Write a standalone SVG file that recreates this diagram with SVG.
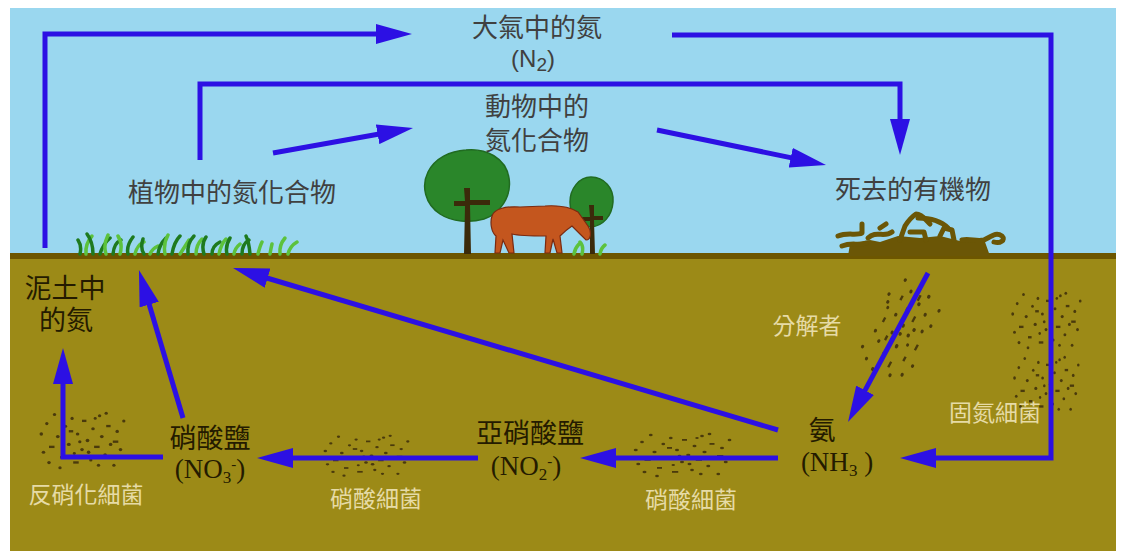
<svg xmlns="http://www.w3.org/2000/svg" width="1125" height="557" viewBox="0 0 1125 557">
  <style>
    .sky-t { font-family: "Noto Sans CJK TC", "Noto Sans CJK SC", sans-serif; font-size: 26px; fill: #404040; text-anchor: middle; }
    .soil-t { font-family: "Liberation Serif", "Noto Sans CJK TC", serif; font-size: 27px; fill: #241b00; text-anchor: middle; }
    .bact-t { font-family: "Liberation Serif", "Noto Sans CJK TC", serif; font-size: 23px; fill: #e6dba6; text-anchor: middle; }
    .chem { font-family: "Liberation Serif", serif; font-size: 27px; fill: #241b00; text-anchor: middle; }
    .chem-s { font-family: "Liberation Sans", sans-serif; font-size: 24px; fill: #404040; text-anchor: middle; }
    .flow { fill: none; stroke: #2c10e4; stroke-width: 5; stroke-linejoin: miter; }
    .dot { fill: #4a3a0c; }
    .blade-d { fill: none; stroke: #1e7a1e; stroke-width: 3.5; stroke-linecap: round; }
    .blade-l { fill: none; stroke: #5cc23c; stroke-width: 3.5; stroke-linecap: round; }
    .twig { fill: none; stroke: #6b5606; stroke-width: 5; stroke-linecap: round; stroke-linejoin: round; }
  </style>
  <defs>
    <marker id="head" markerUnits="userSpaceOnUse" markerWidth="36" markerHeight="20" refX="6" refY="10" orient="auto">
      <path d="M0,0 L36,10 L0,20 Z" fill="#2c10e4"/>
    </marker>
    <!-- a swarm of soil bacteria, about 80 x 50 -->
    <g id="swarm">
      <ellipse class="dot" cx="3" cy="20" rx="1.6" ry="1.3"/>
      <ellipse class="dot" cx="8" cy="12" rx="1.5" ry="1.2"/>
      <rect class="dot" x="10" y="29" width="5" height="1.8"/>
      <ellipse class="dot" cx="15" cy="5" rx="1.5" ry="1.2"/>
      <ellipse class="dot" cx="18" cy="22" rx="1.7" ry="1.3"/>
      <rect class="dot" x="20" y="37" width="4" height="1.8"/>
      <ellipse class="dot" cx="25" cy="14" rx="1.5" ry="1.2"/>
      <ellipse class="dot" cx="28" cy="28" rx="1.8" ry="1.3"/>
      <ellipse class="dot" cx="31" cy="8" rx="1.5" ry="1.2"/>
      <rect class="dot" x="32" y="41" width="5" height="1.8"/>
      <ellipse class="dot" cx="36" cy="20" rx="1.6" ry="1.2"/>
      <ellipse class="dot" cx="40" cy="32" rx="1.6" ry="1.3"/>
      <rect class="dot" x="40" y="9" width="4" height="1.8"/>
      <ellipse class="dot" cx="45" cy="25" rx="1.7" ry="1.3"/>
      <ellipse class="dot" cx="48" cy="40" rx="1.5" ry="1.2"/>
      <ellipse class="dot" cx="50" cy="16" rx="1.6" ry="1.2"/>
      <rect class="dot" x="51" y="29" width="5" height="1.8"/>
      <ellipse class="dot" cx="56" cy="6" rx="1.5" ry="1.2"/>
      <ellipse class="dot" cx="58" cy="22" rx="1.7" ry="1.3"/>
      <ellipse class="dot" cx="61" cy="36" rx="1.6" ry="1.2"/>
      <rect class="dot" x="62" y="13" width="4" height="1.8"/>
      <ellipse class="dot" cx="66" cy="28" rx="1.6" ry="1.3"/>
      <ellipse class="dot" cx="69" cy="44" rx="1.5" ry="1.2"/>
      <ellipse class="dot" cx="72" cy="18" rx="1.6" ry="1.2"/>
      <ellipse class="dot" cx="75" cy="32" rx="1.6" ry="1.3"/>
      <ellipse class="dot" cx="78" cy="10" rx="1.5" ry="1.2"/>
      <ellipse class="dot" cx="10" cy="42" rx="1.6" ry="1.2"/>
      <ellipse class="dot" cx="20" cy="46" rx="1.5" ry="1.2"/>
      <rect class="dot" x="28" y="17" width="4" height="1.8"/>
      <ellipse class="dot" cx="38" cy="26" rx="1.5" ry="1.2"/>
      <ellipse class="dot" cx="46" cy="34" rx="1.6" ry="1.3"/>
      <ellipse class="dot" cx="55" cy="44" rx="1.5" ry="1.2"/>
      <ellipse class="dot" cx="62" cy="4" rx="1.5" ry="1.2"/>
      <rect class="dot" x="68" y="25" width="5" height="1.8"/>
      <ellipse class="dot" cx="5" cy="34" rx="1.6" ry="1.2"/>
      <ellipse class="dot" cx="33" cy="35" rx="1.4" ry="1.1"/>
      <ellipse class="dot" cx="52" cy="8" rx="1.4" ry="1.1"/>
    </g>
  </defs>

  <!-- frame, sky and soil -->
  <rect x="0" y="0" width="1125" height="557" fill="#ffffff"/>
  <rect x="10" y="8" width="1106" height="248" fill="#9ad7ef"/>
  <rect x="10" y="256" width="1106" height="295" fill="#9c8a17"/>
  <rect x="10" y="253" width="1106" height="6" fill="#6d5600"/>

  <!-- scenery -->
  <g id="grass">
    <path class="blade-d" d="M80,254 q2,-8 -2,-14"/>
    <path class="blade-l" d="M86,254 q-1,-10 6,-18"/>
    <path class="blade-d" d="M93,254 q0,-12 -6,-20"/>
    <path class="blade-d" d="M100,254 q3,-10 10,-16"/>
    <path class="blade-l" d="M106,254 q-3,-9 2,-19"/>
    <path class="blade-d" d="M113,254 q1,-11 8,-14"/>
    <path class="blade-l" d="M120,254 q3,-10 -2,-18"/>
    <path class="blade-d" d="M128,254 q-2,-8 5,-17"/>
    <path class="blade-l" d="M135,254 q2,-9 9,-12"/>
    <path class="blade-d" d="M144,254 q-4,-6 -1,-15"/>
    <path class="blade-l" d="M150,254 q2,-5 8,-8"/>
    <path class="blade-d" d="M158,254 q1,-9 8,-16"/>
    <path class="blade-l" d="M165,254 q-2,-10 3,-19"/>
    <path class="blade-d" d="M172,254 q2,-12 8,-18"/>
    <path class="blade-l" d="M180,254 q4,-6 9,-14"/>
    <path class="blade-d" d="M188,254 q-1,-11 6,-18"/>
    <path class="blade-l" d="M196,254 q0,-9 6,-15"/>
    <path class="blade-d" d="M204,254 q-3,-10 2,-17"/>
    <path class="blade-d" d="M212,254 q0,-8 8,-12"/>
    <path class="blade-l" d="M219,254 q2,-10 7,-15"/>
    <path class="blade-d" d="M227,254 q-2,-8 3,-16"/>
    <path class="blade-l" d="M234,254 q1,-6 6,-10"/>
    <path class="blade-d" d="M242,254 q0,-10 7,-14"/>
    <path class="blade-d" d="M250,254 q-1,-12 -4,-18"/>
    <path class="blade-l" d="M258,254 q2,-8 4,-12"/>
    <path class="blade-l" d="M270,254 q1,-6 2,-10"/>
    <path class="blade-l" d="M280,254 q-1,-9 5,-16"/>
    <path class="blade-l" d="M288,254 q2,-8 9,-12"/>
    <path class="blade-l" d="M574,254 q1,-6 5,-10"/>
    <path class="blade-l" d="M582,254 q2,-8 -2,-12"/>
    <path class="blade-l" d="M600,254 q1,-6 5,-9"/>
  </g>

  <g id="trees">
    <path d="M466,150 C486,148 506,158 509,178 C512,196 500,214 484,219 C470,223 452,222 440,214 C425,204 421,186 428,172 C435,158 450,151 466,150 Z" fill="#2a862a" stroke="#216b21" stroke-width="1.5"/>
    <path d="M464,188 L470,188 L470,200 L490,200 L490,205 L470,205 L471,254 L464,254 L465,206 L454,206 L454,201 L465,201 Z" fill="#3b2a0a"/>
    <path d="M591,177 C604,177 614,188 613,202 C612,216 603,226 591,227 C579,227 570,216 570,202 C570,189 579,177 591,177 Z" fill="#2a862a" stroke="#216b21" stroke-width="1.5"/>
    <path d="M589,205 L594,205 L594,216 L603,216 L603,220 L594,220 L595,254 L590,254 L590,221 L580,221 L580,217 L590,217 Z" fill="#3b2a0a"/>
  </g>

  <g id="horse">
    <path d="M492,216 C494,209 505,206 520,207 L545,206 C560,205 570,207 578,212 L588,226 C592,232 591,240 586,240 L580,234 L572,226 C566,230 562,234 560,236 L562,253 L557,253 L553,239 L550,253 L545,253 L546,236 C535,236 520,236 512,234 L514,253 L509,253 L503,240 L500,253 L495,253 L496,236 C491,232 490,222 492,216 Z" fill="#c4561e" stroke="#7a2a10" stroke-width="1.2"/>
  </g>

  <g id="debris">
    <path d="M848,256 L850,244 L870,240 L880,242 L898,236 L920,238 L940,236 L960,241 L985,242 L990,256 Z" fill="#6b5606"/>
    <path class="twig" d="M838,236 C848,232 856,236 862,233 L862,224"/>
    <path class="twig" d="M842,246 C852,242 858,246 866,243"/>
    <path class="twig" d="M868,238 C876,230 884,238 892,232"/>
    <path class="twig" d="M900,240 L905,226 C910,218 916,214 916,214 C922,214 926,220 930,224"/>
    <path class="twig" d="M918,218 C930,218 940,220 948,228"/>
    <path class="twig" d="M910,232 L924,232 L926,240"/>
    <path class="twig" d="M940,236 L944,228 L952,230 L954,240"/>
    <path class="twig" d="M962,240 C970,238 976,242 984,240 C992,236 996,232 1002,236 C1006,240 1000,244 994,242"/>
    <path class="twig" d="M880,228 L886,224"/>
  </g>

  <!-- bacteria in the soil -->
  <g id="bacteria">
    <use href="#swarm" transform="translate(38,408) scale(1.1,1.3)"/>
    <use href="#swarm" transform="translate(322,432) scale(1.1,0.95)"/>
    <use href="#swarm" transform="translate(632,430) scale(1.25,1)"/>
    <use href="#swarm" transform="translate(898,330) rotate(-62) translate(-50,-30) scale(1.25,1.3)"/>
    <use href="#swarm" transform="translate(1010,288) scale(0.9,1.3)"/>
    <use href="#swarm" transform="translate(1012,352) scale(0.85,1.3)"/>
  </g>

  <!-- nodes -->
  <g id="n-atmosphere">
    <text class="sky-t" x="537" y="37">大氣中的氮</text>
    <text class="chem-s" x="533" y="67">(N<tspan font-size="19" dy="4">2</tspan><tspan dy="-4">)</tspan></text>
  </g>
  <g id="n-animal">
    <text class="sky-t" x="537" y="116">動物中的</text>
    <text class="sky-t" x="537" y="150">氮化合物</text>
  </g>
  <g id="n-plant">
    <text class="sky-t" x="232" y="202">植物中的氮化合物</text>
  </g>
  <g id="n-dead">
    <text class="sky-t" x="913" y="199">死去的有機物</text>
  </g>
  <g id="n-soil">
    <text class="soil-t" x="65" y="298">泥土中</text>
    <text class="soil-t" x="66" y="330">的氮</text>
  </g>
  <g id="n-nitrate">
    <text class="soil-t" x="210" y="448">硝酸鹽</text>
    <text class="chem" x="210" y="478">(NO<tspan font-size="17" dy="5">3</tspan><tspan font-size="15" dy="-14">-</tspan><tspan dy="9">)</tspan></text>
  </g>
  <g id="n-nitrite">
    <text class="soil-t" x="530" y="443">亞硝酸鹽</text>
    <text class="chem" x="526" y="475">(NO<tspan font-size="17" dy="5">2</tspan><tspan font-size="15" dy="-14">-</tspan><tspan dy="9">)</tspan></text>
  </g>
  <g id="n-ammonia">
    <text class="soil-t" x="822" y="440">氨</text>
    <text class="chem" x="837" y="471">(NH<tspan font-size="17" dy="5">3</tspan><tspan dy="-5"> )</tspan></text>
  </g>

  <g id="bacteria-labels">
    <text class="bact-t" x="807" y="334" font-size="22">分解者</text>
    <text class="bact-t" x="995" y="421">固氮細菌</text>
    <text class="bact-t" x="376" y="507">硝酸細菌</text>
    <text class="bact-t" x="691" y="508">硝酸細菌</text>
    <text class="bact-t" x="86" y="503">反硝化細菌</text>
  </g>

  <!-- connectors -->
  <g id="connectors">
    <path class="flow" d="M45,248 V34 H382" marker-end="url(#head)"/>
    <path class="flow" d="M672,35 H1051 V458 H930" marker-end="url(#head)"/>
    <path class="flow" d="M200,160 V84 H900 V125" marker-end="url(#head)"/>
    <path class="flow" d="M273,153 L383.5,133.2" marker-end="url(#head)"/>
    <path class="flow" d="M657,130 L796.6,158.9" marker-end="url(#head)"/>
    <path class="flow" d="M928,273 L862.2,395.6" marker-end="url(#head)"/>
    <path class="flow" d="M778,430 L261.8,276.5" marker-end="url(#head)"/>
    <path class="flow" d="M778,458 H610" marker-end="url(#head)"/>
    <path class="flow" d="M478,458 H287" marker-end="url(#head)"/>
    <path class="flow" d="M183,418 L147.5,298.8" marker-end="url(#head)"/>
    <path class="flow" d="M163,457 H63 V378" marker-end="url(#head)"/>
  </g>
</svg>
